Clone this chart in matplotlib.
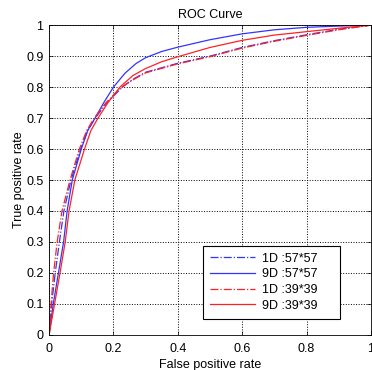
import matplotlib
matplotlib.use('Agg')
import matplotlib.pyplot as plt

plt.rcParams['font.family'] = ['Liberation Sans', 'DejaVu Sans']

# ROC curves
fpr_1d57 = [0, 0.008, 0.019, 0.032, 0.046, 0.068, 0.098, 0.12, 0.143, 0.18, 0.228, 0.26, 0.3, 0.4, 0.5, 0.6, 0.7, 0.8, 0.9, 1]
tpr_1d57 = [0, 0.1, 0.2, 0.3, 0.4, 0.5, 0.6, 0.66, 0.7, 0.75, 0.8, 0.825, 0.848, 0.877, 0.9, 0.928, 0.95, 0.969, 0.987, 1]

fpr_9d57 = [0, 0.013, 0.029, 0.045, 0.056, 0.072, 0.1, 0.12, 0.143, 0.17, 0.2, 0.236, 0.27, 0.3, 0.35, 0.4, 0.5, 0.6, 0.7, 0.8, 0.9, 1]
tpr_9d57 = [0, 0.1, 0.2, 0.3, 0.4, 0.5, 0.6, 0.66, 0.7, 0.75, 0.8, 0.845, 0.876, 0.895, 0.915, 0.929, 0.953, 0.972, 0.985, 0.993, 0.997, 1]

fpr_1d39 = [0, 0.006, 0.014, 0.025, 0.04, 0.065, 0.094, 0.117, 0.14, 0.177, 0.225, 0.26, 0.3, 0.4, 0.5, 0.6, 0.7, 0.8, 0.9, 1]
tpr_1d39 = [0, 0.1, 0.2, 0.3, 0.4, 0.5, 0.6, 0.66, 0.7, 0.75, 0.8, 0.823, 0.846, 0.875, 0.898, 0.926, 0.948, 0.967, 0.985, 1]

fpr_9d39 = [0, 0.017, 0.034, 0.05, 0.062, 0.08, 0.11, 0.13, 0.152, 0.183, 0.22, 0.26, 0.3, 0.35, 0.4, 0.5, 0.6, 0.7, 0.8, 0.9, 1]
tpr_9d39 = [0, 0.1, 0.2, 0.3, 0.4, 0.5, 0.6, 0.66, 0.7, 0.75, 0.8, 0.837, 0.86, 0.882, 0.898, 0.928, 0.951, 0.968, 0.979, 0.99, 1]

labels = ['1D :57*57', '9D :57*57', '1D :39*39', '9D :39*39']

fig = plt.figure(figsize=(3.72, 3.70), dpi=100)
ax = fig.add_axes([0.132, 0.095, 0.865, 0.837])

ax.plot(fpr_1d57, tpr_1d57, color='#3333ff', ls='-.', lw=0.9, label=labels[0])
ax.plot(fpr_9d57, tpr_9d57, color='#3333ff', ls='-', lw=0.9, label=labels[1])
ax.plot(fpr_1d39, tpr_1d39, color='#ff2222', ls='-.', lw=0.9, label=labels[2])
ax.plot(fpr_9d39, tpr_9d39, color='#ff2222', ls='-', lw=0.9, label=labels[3])

ax.set_xlim(0, 1)
ax.set_ylim(0, 1)
ax.set_xticks([0, 0.2, 0.4, 0.6, 0.8, 1])
ax.set_xticklabels(['0', '0.2', '0.4', '0.6', '0.8', '1'])
ax.set_yticks([i / 10 for i in range(11)])
ax.set_yticklabels(['0'] + ['%.1f' % (i / 10) for i in range(1, 10)] + ['1'])
ax.tick_params(direction='in', top=True, right=True, labelsize=9, length=3, width=0.5)
ax.tick_params(axis='x', pad=6)
ax.tick_params(axis='y', pad=4)
ax.grid(True, ls=':', color='black', lw=0.7)
for s in ax.spines.values():
    s.set_linewidth(0.6)

ax.set_title('ROC Curve', fontsize=9, pad=5)
ax.set_xlabel('False positive rate', fontsize=9, labelpad=3)
ax.set_ylabel('True positive rate', fontsize=9, labelpad=1)

leg = ax.legend(loc='lower left', bbox_to_anchor=(0.478, 0.052, 0.425, 0.238),
                mode='expand', borderaxespad=0, fontsize=9,
                fancybox=False, framealpha=1, edgecolor='black',
                handlelength=3.6, handletextpad=0.6, borderpad=0.55, labelspacing=0.3)
leg.get_frame().set_linewidth(0.8)

fig.savefig('out.png', dpi=100)
